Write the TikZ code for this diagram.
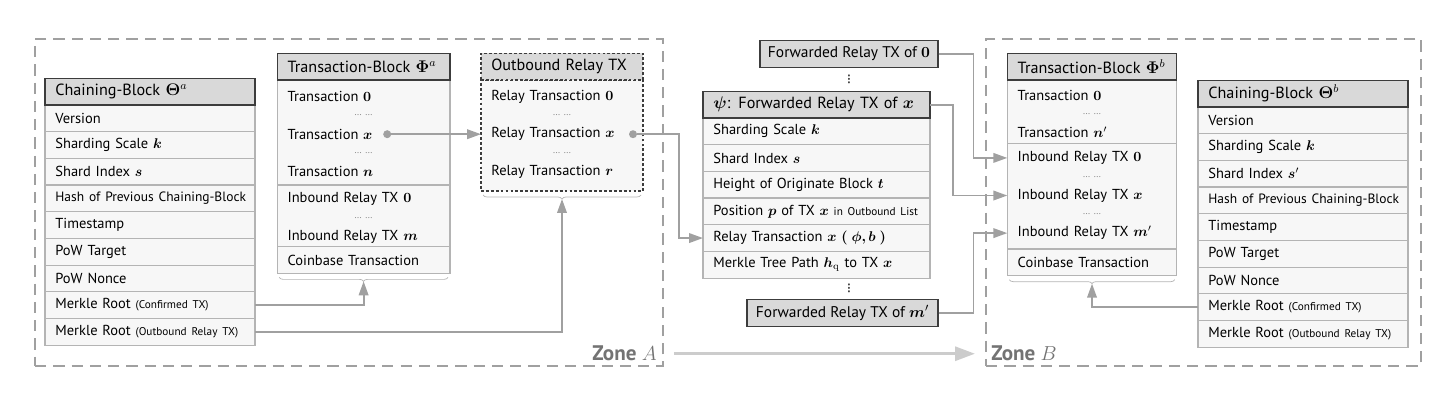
\documentclass[tikz,border=0pt]{standalone}
\usepackage[no-math]{fontspec}
\setmainfont{PT Sans}
\usepackage{amsmath}
\usepackage{bm}
\usepackage{xcolor}
\usetikzlibrary{arrows.meta, positioning, calc, decorations.pathreplacing}

\definecolor{headfill}{HTML}{D9D9D9}
\definecolor{rowfill}{HTML}{F7F7F7}
\definecolor{headline}{HTML}{3C3C3C}
\definecolor{rowline}{HTML}{B4B4B4}
\definecolor{conncol}{HTML}{A0A0A0}
\definecolor{zonecol}{HTML}{A0A0A0}
\definecolor{zonetext}{HTML}{737373}
\definecolor{zonearrowcol}{HTML}{CCCCCC}
\definecolor{dotcol}{HTML}{8C8C8C}

\newcommand{\minor}[1]{{\fontsize{8}{10}\selectfont #1}}

\begin{document}
\begin{tikzpicture}[
    fieldhead/.style={draw=headline, fill=headfill, line width=0.8pt, outer sep=0pt, minimum height=0.667cm, inner xsep=0.26cm, inner ysep=0pt, text width=#1, align=left, font=\fontsize{11.5}{13}\selectfont},
    fieldrow/.style={draw=rowline, fill=rowfill, line width=0.8pt, outer sep=0pt, minimum height=0.667cm, inner xsep=0.26cm, inner ysep=0pt, text width=#1, align=left, font=\fontsize{10.3}{12.5}\selectfont},
    blockpart/.style={draw=rowline, fill=rowfill, line width=0.8pt, outer sep=0pt, minimum width=#1, inner sep=0pt},
    dashhead/.style={fieldhead=#1, dash pattern=on 2pt off 1.5pt},
    dashpart/.style={blockpart=#1, draw=headline, dash pattern=on 2pt off 1.5pt},
    txline/.style={outer sep=0pt, inner xsep=0.26cm, inner ysep=0pt, minimum height=0.47cm, text width=#1, align=left, font=\fontsize{10.3}{12.5}\selectfont},
    dotline/.style={txline=#1, align=center, font=\scriptsize, text=dotcol},
    fwbox/.style={draw=headline, fill=headfill, line width=0.8pt, minimum height=0.67cm, font=\fontsize{11}{13}\selectfont},
    vdots/.style={rotate=90, inner sep=0pt, font=\small\bfseries, text=headline},
    zone/.style={draw=zonecol, line width=1.4pt, dash pattern=on 8pt off 5pt, inner sep=0pt},
    zonelabel/.style={inner sep=0pt, text=zonetext, font=\fontsize{15}{17}\selectfont\bfseries},
    conn/.style={draw=conncol, line width=1.3pt, -{Triangle[length=0.35cm, width=0.24cm]}},
    zonearrow/.style={draw=zonearrowcol, line width=2.2pt, -{Triangle[length=0.5cm, width=0.35cm]}},
    tapdot/.style={circle, fill=conncol, inner sep=0pt, minimum size=0.2cm},
    underbrace/.style={draw=rowline, line width=0.5pt, decorate, decoration={brace, mirror, amplitude=0.1cm}}
]
\useasboundingbox (0,0) rectangle (36.3,-10.025);

% Zones
\node[zone, minimum width=15.7cm, minimum height=8.175cm, anchor=north west] (zoneA) at (0.85,-0.95) {};
\node[zone, minimum width=10.875cm, minimum height=8.175cm, anchor=north west] (zoneB) at (24.625,-0.95) {};
\node[zonelabel, anchor=base east] (labA) at ([xshift=-0.175cm, yshift=0.15cm]zoneA.south east) {Zone $A$};
\node[zonelabel, anchor=base west] (labB) at ([xshift=0.15cm, yshift=0.15cm]zoneB.south west) {Zone $B$};

% Chaining-Block of zone A
\node[fieldrow=4.73cm, anchor=north west] (cA1) at (1.125,-2.625) {Version};
\node[fieldhead=4.73cm, above=0pt of cA1] (cAh) {Chaining-Block $\boldsymbol{\Theta}^{a}$};
\node[fieldrow=4.73cm, below=0pt of cA1] (cA2) {Sharding Scale $\boldsymbol{k}$};
\node[fieldrow=4.73cm, below=0pt of cA2] (cA3) {Shard Index $\boldsymbol{s}$};
\node[fieldrow=4.73cm, below=0pt of cA3] (cA4) {\mbox{\fontsize{9.6}{12}\selectfont Hash of Previous Chaining-Block}};
\node[fieldrow=4.73cm, below=0pt of cA4] (cA5) {Timestamp};
\node[fieldrow=4.73cm, below=0pt of cA5] (cA6) {PoW Target};
\node[fieldrow=4.73cm, below=0pt of cA6] (cA7) {PoW Nonce};
\node[fieldrow=4.73cm, below=0pt of cA7] (cA8) {Merkle Root \minor{(Confirmed TX)}};
\node[fieldrow=4.73cm, below=0pt of cA8] (cA9) {\mbox{Merkle Root \minor{(Outbound Relay TX)}}};

% Transaction-Block of zone A
\node[blockpart=4.32cm, minimum height=2.625cm, anchor=north west] (tbA1) at (6.93,-2.0) {};
\node[fieldhead=3.8cm, above=0pt of tbA1] (tbAh) {Transaction-Block $\boldsymbol{\Phi}^{a}$};
\node[txline=3.8cm, below=0.18cm of tbA1.north] (tA0) {Transaction $\mathbf{0}$};
\node[dotline=3.8cm, below=0pt of tA0] (tA1) {\dots\ \dots};
\node[txline=3.8cm, below=0pt of tA1] (tAx) {Transaction $\boldsymbol{x}$};
\node[dotline=3.8cm, below=0pt of tAx] (tA2) {\dots\ \dots};
\node[txline=3.8cm, below=0pt of tA2] (tAn) {Transaction $\boldsymbol{n}$};
\node[blockpart=4.32cm, minimum height=1.542cm, below=0pt of tbA1] (tbA2) {};
\node[txline=3.8cm, below=0.115cm of tbA2.north] (tAi0) {Inbound Relay TX $\mathbf{0}$};
\node[dotline=3.8cm, below=0pt of tAi0] (tA3) {\dots\ \dots};
\node[txline=3.8cm, below=0pt of tA3] (tAim) {Inbound Relay TX $\boldsymbol{m}$};
\node[fieldrow=3.8cm, below=0pt of tbA2] (tbA3) {Coinbase Transaction};
\node[tapdot] (dAx) at ([xshift=2.75cm]tAx.west) {};

% Outbound Relay TX of zone A
\node[dashpart=4.05cm, minimum height=2.775cm, anchor=north west] (obA1) at (12.025,-2.0) {};
\node[dashhead=3.53cm, above=0pt of obA1] (obAh) {Outbound Relay TX};
\node[txline=3.53cm, below=0.18cm of obA1.north] (ob0) {Relay Transaction $\mathbf{0}$};
\node[dotline=3.53cm, below=0pt of ob0] (ob1) {\dots\ \dots};
\node[txline=3.53cm, below=0pt of ob1] (obx) {Relay Transaction $\boldsymbol{x}$};
\node[dotline=3.53cm, below=0pt of obx] (ob2) {\dots\ \dots};
\node[txline=3.53cm, below=0pt of ob2] (obr) {Relay Transaction $\boldsymbol{r}$};
\node[tapdot] (dOx) at ([xshift=-0.25cm]obx.east) {};

% Forwarded relay transactions
\node[fwbox, minimum width=4.45cm] (fw0) at (21.225,-1.35) {Forwarded Relay TX of $\mathbf{0}$};
\node[fieldrow=5.155cm, anchor=north west] (pS) at (17.575,-2.95) {Sharding Scale $\boldsymbol{k}$};
\node[fieldhead=5.155cm, above=0pt of pS] (psiH) {$\boldsymbol{\psi}$: Forwarded Relay TX of $\boldsymbol{x}$};
\node[fieldrow=5.155cm, below=0pt of pS] (pI) {Shard Index $\boldsymbol{s}$};
\node[fieldrow=5.155cm, below=0pt of pI] (pH) {Height of Originate Block $\boldsymbol{t}$};
\node[fieldrow=5.155cm, below=0pt of pH] (pP) {\mbox{Position $\boldsymbol{p}$ of TX $\boldsymbol{x}$ \minor{in Outbound List}}};
\node[fieldrow=5.155cm, below=0pt of pP] (pRel) {Relay Transaction $\boldsymbol{x}$ $\boldsymbol{(\;\phi, b\;)}$};
\node[fieldrow=5.155cm, below=0pt of pRel] (pPath) {Merkle Tree Path $\boldsymbol{h}_{\mathrm{q}}$ to TX $\boldsymbol{x}$};
\node[fwbox, minimum width=4.775cm] (fwm) at (21.0625,-7.825) {Forwarded Relay TX of $\boldsymbol{m}'$};
\node[vdots] (vd0) at ($(fw0.south)!0.5!(fw0.south |- psiH.north)$) {\dots};
\node[vdots] (vd1) at ($(fw0.south |- pPath.south)!0.5!(fw0.south |- fwm.north)$) {\dots};

% Transaction-Block of zone B
\node[blockpart=4.235cm, minimum height=1.583cm, anchor=north west] (tbB1) at (25.183,-2.0) {};
\node[fieldhead=3.715cm, above=0pt of tbB1] (tbBh) {Transaction-Block $\boldsymbol{\Phi}^{b}$};
\node[txline=3.715cm, below=0.14cm of tbB1.north] (tBt0) {Transaction $\mathbf{0}$};
\node[dotline=3.715cm, below=0pt of tBt0] (tB1) {\dots\ \dots};
\node[txline=3.715cm, below=0pt of tB1] (tBn) {Transaction $\boldsymbol{n}'$};
\node[blockpart=4.235cm, minimum height=2.642cm, below=0pt of tbB1] (tbB2) {};
\node[txline=3.715cm, below=0.13cm of tbB2.north] (tB0) {Inbound Relay TX $\mathbf{0}$};
\node[dotline=3.715cm, below=0pt of tB0] (tB2) {\dots\ \dots};
\node[txline=3.715cm, below=0pt of tB2] (tBx) {Inbound Relay TX $\boldsymbol{x}$};
\node[dotline=3.715cm, below=0pt of tBx] (tB3) {\dots\ \dots};
\node[txline=3.715cm, below=0pt of tB3] (tBm) {Inbound Relay TX $\boldsymbol{m}'$};
\node[fieldrow=3.715cm, below=0pt of tbB2] (tbB3) {Coinbase Transaction};

% Chaining-Block of zone B
\node[fieldrow=4.73cm, anchor=north west] (cB1) at (29.95,-2.675) {Version};
\node[fieldhead=4.73cm, above=0pt of cB1] (cBh) {Chaining-Block $\boldsymbol{\Theta}^{b}$};
\node[fieldrow=4.73cm, below=0pt of cB1] (cB2) {Sharding Scale $\boldsymbol{k}$};
\node[fieldrow=4.73cm, below=0pt of cB2] (cB3) {Shard Index $\boldsymbol{s}'$};
\node[fieldrow=4.73cm, below=0pt of cB3] (cB4) {\mbox{\fontsize{9.6}{12}\selectfont Hash of Previous Chaining-Block}};
\node[fieldrow=4.73cm, below=0pt of cB4] (cB5) {Timestamp};
\node[fieldrow=4.73cm, below=0pt of cB5] (cB6) {PoW Target};
\node[fieldrow=4.73cm, below=0pt of cB6] (cB7) {PoW Nonce};
\node[fieldrow=4.73cm, below=0pt of cB7] (cB8) {Merkle Root \minor{(Confirmed TX)}};
\node[fieldrow=4.73cm, below=0pt of cB8] (cB9) {\mbox{Merkle Root \minor{(Outbound Relay TX)}}};

% Braces under the blocks
\draw[underbrace] ([xshift=0.05cm, yshift=-0.1cm]tbA3.south west) -- ([xshift=-0.05cm, yshift=-0.1cm]tbA3.south east);
\draw[underbrace] ([xshift=0.05cm, yshift=-0.1cm]obA1.south west) -- ([xshift=-0.05cm, yshift=-0.1cm]obA1.south east);
\draw[underbrace] ([xshift=0.05cm, yshift=-0.1cm]tbB3.south west) -- ([xshift=-0.05cm, yshift=-0.1cm]tbB3.south east);
\coordinate (brA) at ([yshift=-0.2cm]tbA3.south);
\coordinate (brO) at ([yshift=-0.2cm]obA1.south);
\coordinate (brB) at ([yshift=-0.2cm]tbB3.south);

% Connectors
\draw[conn] (cA8.east) -| (brA);
\draw[conn] (cA9.east) -| (brO);
\draw[conn] (cB8.west) -| (brB);
\draw[conn] (dAx) -- (obx.west);
\draw[conn] (dOx) -- ++(1.15,0) |- (pRel.west);
\draw[conn] (fw0.east) -- ++(0.875,0) |- (tB0.west);
\draw[conn] (psiH.east) -- ++(0.575,0) |- (tBx.west);
\draw[conn] (fwm.east) -- ++(0.875,0) |- (tBm.west);

% Zone A to zone B
\draw[zonearrow, shorten <=0.42cm, shorten >=0.4cm] (labA.east) -- (labB.west);

\end{tikzpicture}
\end{document}
